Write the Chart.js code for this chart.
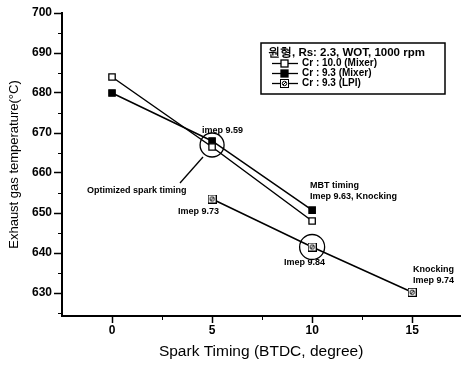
<!DOCTYPE html>
<html>
<head>
<meta charset="utf-8">
<script src="https://cdn.jsdelivr.net/npm/chart.js@4.4.1/dist/chart.umd.min.js"></script>
<style>
  html, body { margin: 0; padding: 0; background: #fff; }
  #wrap { width: 466px; height: 365px; position: relative; }
</style>
</head>
<body>
<div id="wrap"><canvas id="chart"></canvas></div>
<script>
// spark timing (BTDC, degree) and exhaust gas temperature readings
const sparkMixer = [0, 5, 10];
const tempCr100Mixer = [684, 666.5, 648];
const tempCr93Mixer = [680, 668, 650.7];
const sparkLpi = [5, 10, 15];
const tempCr93Lpi = [653.5, 641.5, 630.2];

const xTicks = [0, 2.5, 5, 7.5, 10, 12.5, 15];
const yTicks = [625, 630, 635, 640, 645, 650, 655, 660, 665, 670, 675, 680, 685, 690, 695, 700];

const legendTitle = '원형, Rs: 2.3, WOT, 1000 rpm';
const seriesNames = ['Cr : 10.0 (Mixer)', 'Cr : 9.3 (Mixer)', 'Cr : 9.3 (LPI)'];

const FONT = '"Liberation Sans", Arial, sans-serif';

function toPoints(xs, ys) {
    return xs.map((x, i) => ({ x: x, y: ys[i] }));
}

// square marker with a small circle and slash for the LPI series
function lpiMarker() {
    const c = document.createElement('canvas');
    c.width = 9; c.height = 9;
    const g = c.getContext('2d');
    g.fillStyle = '#fff';
    g.fillRect(0, 0, 9, 9);
    g.strokeStyle = '#000';
    g.lineWidth = 1;
    g.strokeRect(0.5, 0.5, 8, 8);
    g.beginPath();
    g.arc(4.5, 4.5, 2.2, 0, Math.PI * 2);
    g.stroke();
    g.beginPath();
    g.moveTo(3, 6); g.lineTo(6, 3);
    g.stroke();
    return c;
}
const lpiImg = lpiMarker();

const notesPlugin = {
    id: 'notes',
    afterDatasetsDraw(chart) {
        const ctx = chart.ctx;
        const xs = chart.scales.x, ys = chart.scales.y;
        ctx.save();
        ctx.strokeStyle = '#000';
        ctx.fillStyle = '#000';
        ctx.lineWidth = 1.3;

        // circles round the marked points
        ctx.beginPath();
        ctx.arc(xs.getPixelForValue(5), ys.getPixelForValue(667), 12, 0, Math.PI * 2);
        ctx.stroke();
        ctx.beginPath();
        ctx.arc(xs.getPixelForValue(10), ys.getPixelForValue(641.5), 12.5, 0, Math.PI * 2);
        ctx.stroke();

        // leader for optimized spark timing
        ctx.beginPath();
        ctx.moveTo(180, 183);
        ctx.lineTo(203, 157);
        ctx.stroke();

        ctx.font = 'bold 9px ' + FONT;
        ctx.textBaseline = 'middle';
        ctx.textAlign = 'left';
        ctx.fillText('Optimized spark timing', 87, 191);
        ctx.fillText('imep 9.59', 202, 131);
        ctx.fillText('MBT timing', 310, 186);
        ctx.fillText('Imep 9.63, Knocking', 310, 197);
        ctx.fillText('Imep 9.73', 178, 212);
        ctx.fillText('Imep 9.84', 284, 263);
        ctx.fillText('Knocking', 413, 270);
        ctx.fillText('Imep 9.74', 413, 281);

        // minor ticks
        ctx.lineWidth = 1;
        yTicks.forEach(v => {
            if (v % 10 !== 0) {
                const py = Math.round(ys.getPixelForValue(v)) + 0.5;
                ctx.beginPath();
                ctx.moveTo(xs.left - 4, py);
                ctx.lineTo(xs.left, py);
                ctx.stroke();
            }
        });
        xTicks.forEach(v => {
            if (v % 5 !== 0) {
                const px = Math.round(xs.getPixelForValue(v)) + 0.5;
                ctx.beginPath();
                ctx.moveTo(px, ys.bottom);
                ctx.lineTo(px, ys.bottom + 4);
                ctx.stroke();
            }
        });

        // boxed legend
        const bx = 261, by = 43, bw = 184, bh = 51;
        ctx.lineWidth = 1.5;
        ctx.fillStyle = '#fff';
        ctx.fillRect(bx, by, bw, bh);
        ctx.strokeRect(bx, by, bw, bh);
        ctx.fillStyle = '#000';
        ctx.font = 'bold 11.5px ' + FONT;
        ctx.fillText(legendTitle, 268, 53);
        ctx.font = 'bold 10px ' + FONT;
        chart.data.datasets.forEach((ds, i) => {
            const ly = 63.5 + i * 10;
            ctx.lineWidth = 1.3;
            ctx.beginPath();
            ctx.moveTo(272, ly);
            ctx.lineTo(298, ly);
            ctx.stroke();
            if (ds.pointStyle === 'rect') {
                ctx.fillStyle = ds.pointBackgroundColor;
                ctx.fillRect(281, ly - 3.5, 7, 7);
                ctx.strokeRect(281, ly - 3.5, 7, 7);
            } else {
                ctx.drawImage(lpiImg, 280, Math.round(ly - 4.5));
            }
            ctx.fillStyle = '#000';
            ctx.fillText(seriesNames[i], 302, ly);
        });
        ctx.restore();
    }
};

new Chart(document.getElementById('chart'), {
    type: 'scatter',
    data: {
        datasets: [
            {
                label: seriesNames[0],
                data: toPoints(sparkMixer, tempCr100Mixer),
                showLine: true,
                borderColor: '#000',
                borderWidth: 1.5,
                pointStyle: 'rect',
                pointRadius: 4.5,
                pointBackgroundColor: '#fff',
                pointBorderColor: '#000',
                pointBorderWidth: 1.3
            },
            {
                label: seriesNames[1],
                data: toPoints(sparkMixer, tempCr93Mixer),
                showLine: true,
                borderColor: '#000',
                borderWidth: 1.5,
                pointStyle: 'rect',
                pointRadius: 4.5,
                pointBackgroundColor: '#000',
                pointBorderColor: '#000',
                pointBorderWidth: 1.3
            },
            {
                label: seriesNames[2],
                data: toPoints(sparkLpi, tempCr93Lpi),
                showLine: true,
                borderColor: '#000',
                borderWidth: 1.5,
                pointStyle: lpiImg
            }
        ]
    },
    options: {
        responsive: true,
        maintainAspectRatio: false,
        animation: false,
        layout: { padding: { top: 13, right: 1, left: 0, bottom: 0 } },
        plugins: {
            legend: { display: false },
            tooltip: { enabled: false }
        },
        scales: {
            x: {
                type: 'linear',
                min: -2.5,
                max: 17.4,
                afterBuildTicks: s => { s.ticks = xTicks.map(v => ({ value: v })); },
                afterFit: s => { s.height = 49; },
                border: { color: '#000', width: 2 },
                grid: {
                    drawOnChartArea: false,
                    tickLength: 7,
                    tickWidth: 1.5,
                    tickColor: c => (c.tick && c.tick.value % 5 === 0) ? '#000' : 'transparent'
                },
                ticks: {
                    color: '#000',
                    padding: 0,
                    autoSkip: false,
                    maxRotation: 0,
                    font: { family: FONT, size: 12, weight: 'bold' },
                    callback: v => v % 5 === 0 ? String(v) : ''
                },
                title: {
                    display: true,
                    text: 'Spark Timing (BTDC, degree)',
                    color: '#000',
                    font: { family: FONT, size: 15.5 },
                    padding: { top: 0, bottom: 4 }
                }
            },
            y: {
                type: 'linear',
                min: 624.25,
                max: 700,
                afterBuildTicks: s => { s.ticks = yTicks.map(v => ({ value: v })); },
                afterFit: s => { s.width = 62; },
                border: { color: '#000', width: 2 },
                grid: {
                    drawOnChartArea: false,
                    tickLength: 8,
                    tickWidth: 1.5,
                    tickColor: c => (c.tick && c.tick.value % 10 === 0) ? '#000' : 'transparent'
                },
                ticks: {
                    color: '#000',
                    padding: 2,
                    autoSkip: false,
                    font: { family: FONT, size: 12, weight: 'bold' },
                    callback: v => v % 10 === 0 ? String(v) : ''
                },
                title: {
                    display: true,
                    text: 'Exhaust gas temperature(°C)',
                    color: '#000',
                    font: { family: FONT, size: 13 },
                    padding: { top: 7, bottom: 0 }
                }
            }
        }
    },
    plugins: [notesPlugin]
});
</script>
</body>
</html>
